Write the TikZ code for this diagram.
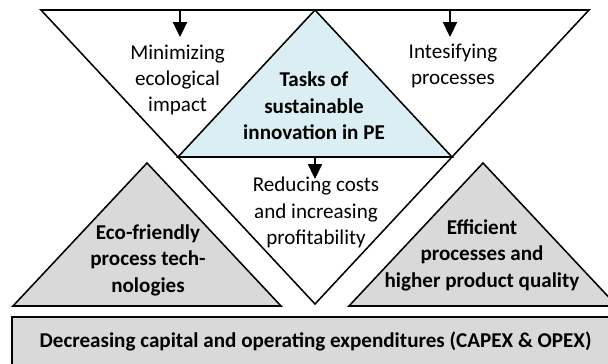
\documentclass[tikz,border=0pt]{standalone}
\usepackage{fontspec}
\setmainfont{Carlito}
\usepackage{tikz}
\usetikzlibrary{arrows.meta,positioning}
\definecolor{taskblue}{RGB}{218,238,243}
\definecolor{basegray}{RGB}{217,217,217}

\begin{document}
\begin{tikzpicture}[tri/.style={draw=black, line width=1.1pt, line join=miter},
        txt/.style={align=center, font=\fontsize{15}{18.8}\selectfont},
        boldtxt/.style={align=center, font=\fontsize{15}{18.8}\selectfont\bfseries},
        >={Triangle[width=10pt,length=10.5pt]}]
        \useasboundingbox (0, 0) rectangle (15.2, 9.1);
        \clip (0, 0) rectangle (15.2, 9.1);
        % big inverted triangle and the task triangle in it
        \draw [tri, fill=white] (1.025, 8.85) -- (14.725, 8.85) -- (7.875, 1.5) -- cycle;
        \draw [tri, fill=taskblue] (4.45, 5.175) -- (11.3, 5.175) -- (7.875, 8.85) -- cycle;
        \draw [tri, fill=basegray] (0.325, 1.45) -- (7.025, 1.45) -- (3.675, 5.025) -- cycle;
        \draw [tri, fill=basegray] (8.725, 1.45) -- (15.425, 1.45) -- (12.075, 5.025) -- cycle;
        \draw [tri, fill=basegray] (0.3, 1.175) rectangle (15.35, -0.2);
        \node [txt] at (4.44, 7.1)     (mini)  {Minimizing\\ecological\\impact};
        \node [txt] at (11.325, 7.45)  (inte)  {Intesifying\\processes};
        \node [boldtxt] at (7.85, 6.45) (task) {Tasks of\\sustainable\\innovation in PE};
        \node [txt] at (7.9, 3.78)     (redu)  {Reducing costs\\and increasing\\profitability};
        \node [boldtxt] at (3.7, 2.6)  (eco)   {Eco-friendly\\process tech-\\nologies};
        \node [boldtxt] at (12.05, 2.72) (effi) {Efficient\\processes and\\higher product quality};
        \node [boldtxt] at (7.89, 0.575) (capx) {Decreasing capital and operating expenditures (CAPEX \& OPEX)};
        % arrows from the edges
        \coordinate (lt) at (4.5, 8.85);
        \coordinate (lh) at (4.5, 8.175);
        \coordinate (rt) at (11.25, 8.85);
        \coordinate (rh) at (11.25, 8.175);
        \coordinate (bt) at (7.875, 5.175);
        \coordinate (bh) at (7.875, 4.625);
        \draw [->, line width=0.85pt] (lt) -- (lh);
        \draw [->, line width=0.85pt] (rt) -- (rh);
        \draw [->, line width=0.85pt] (bt) -- (bh);
    \end{tikzpicture}
\end{document}
